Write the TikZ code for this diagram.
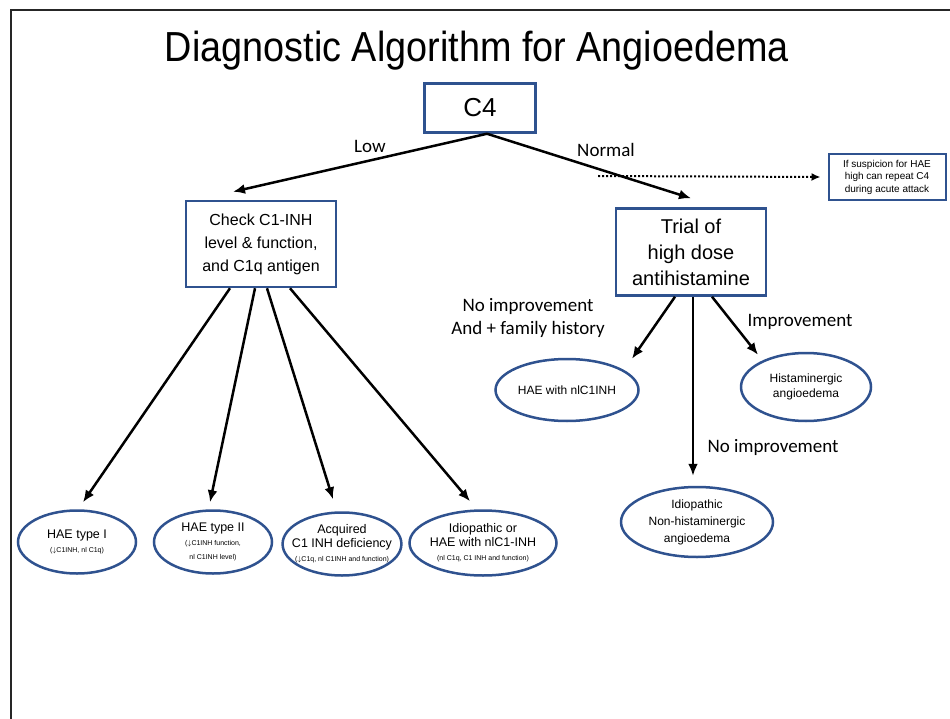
\documentclass[tikz,border=0pt]{standalone}
\usepackage{fontspec}
\setmainfont{Liberation Sans}
\newfontfamily\titlefont{Liberation Sans}[FakeStretch=0.9]
\newfontfamily\labelfont{Carlito}
\usetikzlibrary{arrows.meta}
\usetikzlibrary{shapes.geometric}
\usetikzlibrary{positioning}
\definecolor{boxblue}{RGB}{47,82,143}
\newcommand{\smalltxt}{\fontsize{7}{7.5}\selectfont}
\tikzstyle{decision} = [rectangle, draw=boxblue, line width=2.5pt, text centered, align=center, inner sep=0pt]
\tikzstyle{outcome} = [ellipse, draw=boxblue, line width=2.5pt, align=center, inner sep=-8pt]
\tikzstyle{branch} = [align=center, font=\labelfont\fontsize{19}{23}\selectfont]

\begin{document}
\begin{tikzpicture}[x=1pt,y=-1pt]

		\useasboundingbox (0,0) rectangle (950,719);
		\draw[line width=2.5pt, gray!30!black] (11,719) -- (11,10) -- (950,10);

		\node[anchor=base] (title) at (477,62) {\titlefont\fontsize{42}{48}\selectfont Diagnostic Algorithm for Angioedema};

		% tests
		\node [decision, minimum width=111, minimum height=49, font=\fontsize{26}{30}\selectfont] (C) at (480,108) {C4};
		\node [decision, minimum width=150, minimum height=86, font=\fontsize{16}{23}\selectfont] (K) at (261,244) {Check C1-INH\\level \& function,\\and C1q antigen};
		\node [decision, minimum width=150, minimum height=87, font=\fontsize{20}{26}\selectfont] (T) at (691,252) {Trial of\\high dose\\antihistamine};
		\node [decision, line width=2pt, minimum width=117, minimum height=46, font=\fontsize{10}{12.5}\selectfont] (S) at (887,177) {If suspicion for HAE\\high can repeat C4\\during acute attack};

		% outcomes
		\node [outcome, minimum width=118, minimum height=63, font=\fontsize{12.5}{14}\selectfont] (H1) at (77,542) {HAE type I\\\smalltxt($\downarrow$C1INH, nl C1q)};
		\node [outcome, minimum width=118, minimum height=63, font=\fontsize{12.5}{14}\selectfont] (H2) at (213,542) {HAE type II\\\smalltxt($\downarrow$C1INH function,\\\smalltxt nl C1INH level)};
		\node [outcome, minimum width=118, minimum height=63, font=\fontsize{12.5}{14}\selectfont] (A) at (342,544) {Acquired\\C1 INH deficiency\\\smalltxt($\downarrow$C1q, nl C1INH and function)};
		\node [outcome, minimum width=147, minimum height=65, font=\fontsize{12.5}{14}\selectfont] (I) at (483,543) {Idiopathic or\\HAE with nlC1-INH\\\smalltxt(nl C1q, C1 INH and function)};
		\node [outcome, minimum width=143, minimum height=62, font=\fontsize{12}{15}\selectfont] (N) at (567,390) {HAE with nlC1INH};
		\node [outcome, minimum width=130, minimum height=68, font=\fontsize{12}{15}\selectfont] (G) at (806,387) {Histaminergic\\angioedema};
		\node [outcome, minimum width=152, minimum height=70, font=\fontsize{12}{17}\selectfont] (D) at (697,522) {Idiopathic\\Non-histaminergic\\angioedema};

		% branch labels
		\node [branch] (low) at (370,146) {Low};
		\node [branch] (normal) at (606,150) {Normal};
		\node [branch] (noimp) at (528,318) {No improvement\\And + family history};
		\node [branch] (imp) at (800,322) {Improvement};
		\node [branch] (noimp2) at (773,447) {No improvement};
		\coordinate (dot) at (598,176);

		% connections
		\draw[line width=2.5pt, -{Latex[length=12pt, width=10pt]}] ([xshift=7pt]C.south) -- ([xshift=-28pt,yshift=8pt]K.north);
		\draw[line width=2.5pt, -{Latex[length=12pt, width=10pt]}] ([xshift=7pt]C.south) -- ([yshift=9pt]T.north);
		\draw[line width=2pt, dotted, -{Latex[length=9pt, width=8pt]}] (dot) -- ([xshift=-7pt]S.west);

		\draw[line width=2.5pt, -{Latex[length=12pt, width=10pt]}] ([xshift=-31pt]K.south) -- ([xshift=6pt,yshift=7pt]H1.north);
		\draw[line width=2.5pt, -{Latex[length=12pt, width=10pt]}] ([xshift=-6pt]K.south) -- ([xshift=-3pt,yshift=7pt]H2.north);
		\draw[line width=2.5pt, -{Latex[length=12pt, width=10pt]}] ([xshift=6pt]K.south) -- ([xshift=-9pt,yshift=12pt]A.north);
		\draw[line width=2.5pt, -{Latex[length=12pt, width=10pt]}] ([xshift=29pt]K.south) -- ([xshift=-13pt,yshift=8pt]I.north);

		\draw[line width=2.5pt, -{Latex[length=12pt, width=10pt]}] ([xshift=-16pt]T.south) -- ([xshift=65pt,yshift=-1pt]N.north);
		\draw[line width=2.5pt, -{Latex[length=12pt, width=10pt]}] ([xshift=2pt]T.south) -- ([xshift=-4pt,yshift=10pt]D.north);
		\draw[line width=2.5pt, -{Latex[length=12pt, width=10pt]}] ([xshift=21pt]T.south) -- ([xshift=-48pt,yshift=-3pt]G.north);

	\end{tikzpicture}
\end{document}
